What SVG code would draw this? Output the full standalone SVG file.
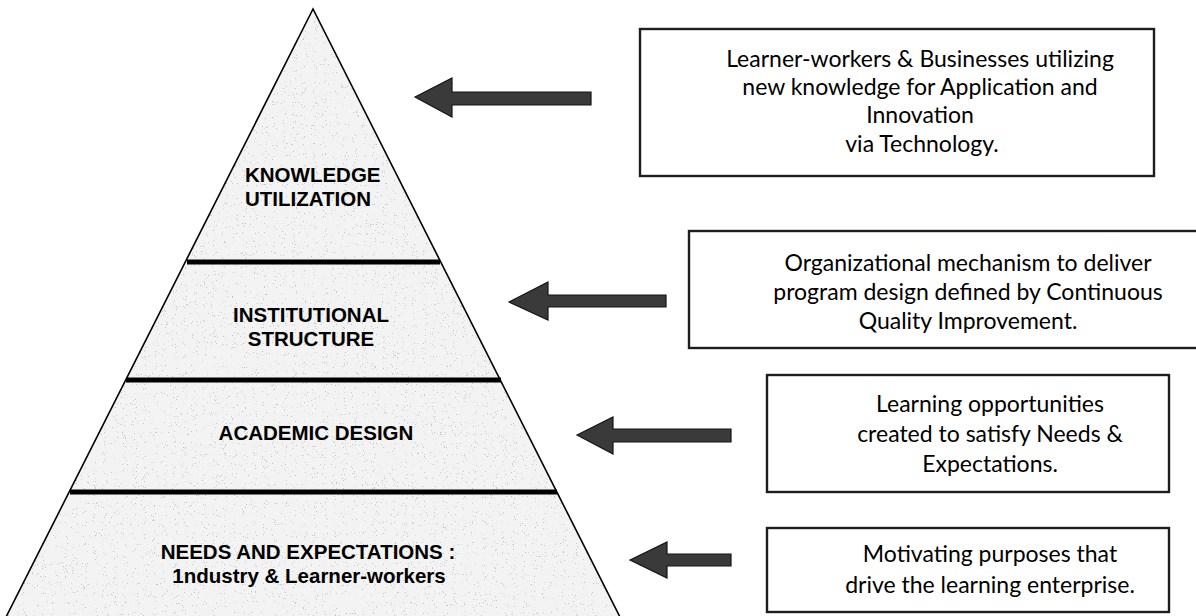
<svg xmlns="http://www.w3.org/2000/svg" width="1196" height="616" viewBox="0 0 1196 616">
  <style>
    .tier { font-family: "Liberation Sans", Arial, sans-serif; font-weight: bold; font-size: 20.5px; fill: #000; }
    .note { font-family: Lato, "Open Sans", sans-serif; font-size: 23px; fill: #000; text-anchor: middle; }
    .box { fill: #fff; stroke: #1e1e1e; stroke-width: 2.4; }
    .sep { stroke: #000; stroke-width: 5; }
    .arrow { fill: #3a3a3a; stroke: #141414; stroke-width: 1.2; stroke-linejoin: miter; }
  </style>

  <defs>
    <!-- sparse grey speckle used for the pyramid fill -->
    <filter id="stipple" x="0" y="0" width="100%" height="100%">
      <feTurbulence type="fractalNoise" baseFrequency="0.9" numOctaves="2" seed="7" result="noise"/>
      <feColorMatrix in="noise" type="matrix" values="0 0 0 0 0.55  0 0 0 0 0.55  0 0 0 0 0.55  16 0 0 0 -11" result="dots"/>
      <feComposite in="dots" in2="SourceGraphic" operator="in" result="clipped"/>
      <feMerge>
        <feMergeNode in="SourceGraphic"/>
        <feMergeNode in="clipped"/>
      </feMerge>
    </filter>
  </defs>

  <rect width="1196" height="616" fill="#fff"/>

  <!-- pyramid body -->
  <g id="pyramid">
    <polygon points="313,9 2,625 624,625" fill="#f3f3f3" filter="url(#stipple)"/>
    <polygon points="313,9 2,625 624,625" fill="none" stroke="#000" stroke-width="1.6"/>
    <line class="sep" x1="187" y1="262" x2="440" y2="262"/>
    <line class="sep" x1="126" y1="380" x2="501" y2="380"/>
    <line class="sep" x1="70" y1="492" x2="557" y2="492"/>
  </g>

  <g id="tier-knowledge">
    <text class="tier" x="245" y="182">KNOWLEDGE</text>
    <text class="tier" x="245" y="206">UTILIZATION</text>
  </g>
  <g id="tier-institutional">
    <text class="tier" x="311" y="322" text-anchor="middle">INSTITUTIONAL</text>
    <text class="tier" x="311" y="346" text-anchor="middle">STRUCTURE</text>
  </g>
  <g id="tier-academic">
    <text class="tier" x="316" y="440" text-anchor="middle">ACADEMIC DESIGN</text>
  </g>
  <g id="tier-needs">
    <text class="tier" x="308" y="559" text-anchor="middle">NEEDS AND EXPECTATIONS :</text>
    <text class="tier" x="309" y="583" text-anchor="middle">1ndustry &amp; Learner-workers</text>
  </g>

  <!-- description boxes -->
  <g id="desc-knowledge">
    <rect class="box" x="640" y="29" width="514" height="147"/>
    <text class="note" x="920" y="67">Learner-workers &amp; Businesses utilizing</text>
    <text class="note" x="920" y="95">new knowledge for Application and</text>
    <text class="note" x="920" y="123">Innovation</text>
    <text class="note" x="922" y="151.5">via Technology.</text>
  </g>
  <g id="desc-institutional">
    <rect class="box" x="689" y="231" width="514" height="117"/>
    <text class="note" x="968" y="270.5">Organizational mechanism to deliver</text>
    <text class="note" x="968" y="299.5">program design defined by Continuous</text>
    <text class="note" x="968" y="328.5">Quality Improvement.</text>
  </g>
  <g id="desc-academic">
    <rect class="box" x="767" y="375" width="402" height="117"/>
    <text class="note" x="990" y="412">Learning opportunities</text>
    <text class="note" x="990" y="442">created to satisfy Needs &amp;</text>
    <text class="note" x="990" y="472">Expectations.</text>
  </g>
  <g id="desc-needs">
    <rect class="box" x="767" y="528" width="402" height="84"/>
    <text class="note" x="990" y="562">Motivating purposes that</text>
    <text class="note" x="990" y="593">drive the learning enterprise.</text>
  </g>

  <!-- block arrows pointing at the tiers -->
  <g id="connectors">
    <polygon class="arrow" points="415,97 452,78 452,92 591,92 591,105 452,105 452,117"/>
    <polygon class="arrow" points="509,302 548,282 548,295 666,295 666,307 548,307 548,320"/>
    <polygon class="arrow" points="577,435 613,417 613,429 731,429 731,442 613,442 613,454"/>
    <polygon class="arrow" points="630,560 667,542 667,554 731,554 731,566 667,566 667,578"/>
  </g>
</svg>
